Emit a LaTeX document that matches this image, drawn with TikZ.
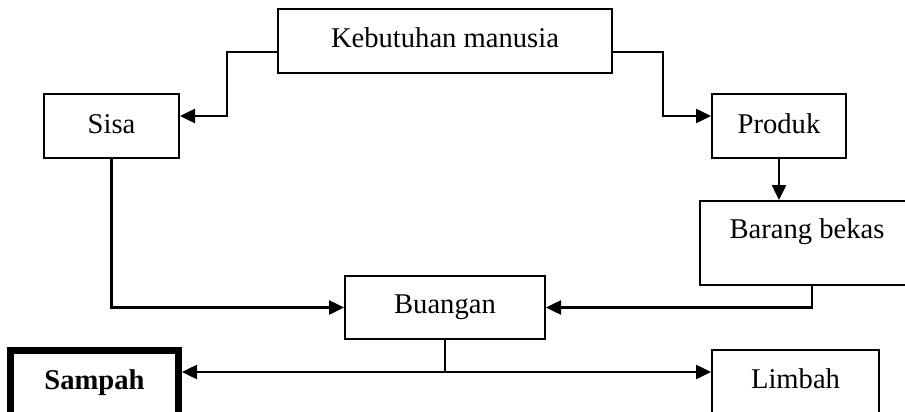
\documentclass[tikz,border=0pt]{standalone}
\usepackage{fontspec}
\setmainfont{Liberation Serif}
\usetikzlibrary{arrows.meta,calc}
\begin{document}
\begin{tikzpicture}[x=1pt,y=-1pt,
  box/.style={draw, line width=2pt, inner sep=0pt, font=\fontsize{28.6}{34}\selectfont},
  conn/.style={line width=2.5pt},
  arr/.style={conn, -{Triangle[length=15pt,width=14pt]}}]
\useasboundingbox (0,0) rectangle (905,412);
\clip (0,0) rectangle (905,412);
\node[box, minimum width=334pt, minimum height=64pt, text height=14pt, text depth=0pt] (keb) at (445,41) {Kebutuhan manusia};
\node[box, minimum width=135pt, minimum height=64pt, text height=14pt, text depth=0pt] (sisa) at (111.5,126) {Sisa};
\node[box, minimum width=134pt, minimum height=64pt, text height=14pt, text depth=0pt] (prod) at (779,126) {Produk};
\node[box, minimum width=214pt, minimum height=84pt, text height=0pt, text depth=10pt] (bb) at (807,243) {Barang bekas};
\node[box, minimum width=200pt, minimum height=63pt, text height=11pt, text depth=0pt] (buang) at (445,307.5) {Buangan};
\node[box, line width=7pt, minimum width=168pt, minimum height=77pt, text height=10pt, text depth=10pt, font=\fontsize{28.6}{34}\selectfont\bfseries] (samp) at (94.5,389) {Sampah};
\node[box, minimum width=167pt, minimum height=77pt, text height=10pt, text depth=10pt] (limb) at (795.5,388) {Limbah};
\draw[arr] ([yshift=-11pt]keb.west) -- ++(-50,0) |- ([yshift=10pt]sisa.east);
\draw[arr] ([yshift=-11pt]keb.east) -- ++(50,0) |- ([yshift=10pt]prod.west);
\draw[arr] (prod.south) -- (prod.south |- bb.north);
\draw[arr] (sisa.south) |- (buang.west);
\draw[arr] ([xshift=5pt]bb.south) |- (buang.east);
\coordinate (j) at ($(buang.south)+(0,32)$);
\draw[conn] (buang.south) -- (j);
\draw[arr] (j) -- (j -| samp.east);
\draw[arr] (j) -- (j -| limb.west);
\end{tikzpicture}
\end{document}
